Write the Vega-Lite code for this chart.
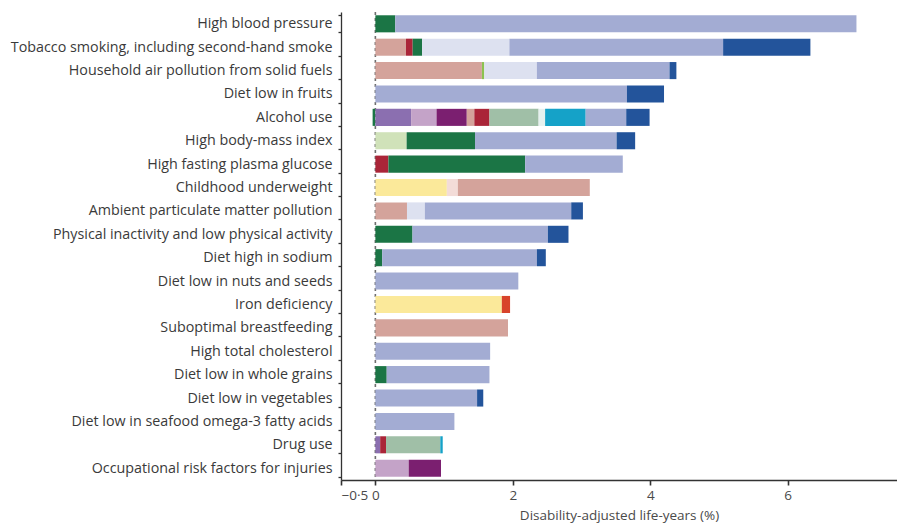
{
  "$schema": "https://vega.github.io/schema/vega-lite/v6.json",
  "autosize": {"type": "none"},
  "padding": {"left": 341, "top": 12, "right": 0, "bottom": 46},
  "width": 556,
  "height": 468,
  "background": "white",
  "config": {
    "view": {"stroke": null},
    "font": "Open Sans",
    "axis": {"grid": false}
  },
  "layer": [
    {
      "data": {"values": [{"z": 0}]},
      "mark": {"type": "rule", "color": "#6e6e6e", "strokeDash": [3, 3], "strokeWidth": 1.6},
      "encoding": {"x": {"field": "z", "type": "quantitative", "scale": {"domain": [-0.5, 7.59], "nice": false, "zero": false}}}
    },
    {
      "data": {"values": [
        {"risk": "High blood pressure", "cause": "Diabetes, urogenital, blood and endocrine diseases", "value": 0.29, "seg": 1},
        {"risk": "High blood pressure", "cause": "Cardiovascular and circulatory diseases", "value": 6.71, "seg": 2},
        {"risk": "Tobacco smoking, including second-hand smoke", "cause": "Diarrhoea, lower respiratory and other common infectious diseases", "value": 0.446, "seg": 1},
        {"risk": "Tobacco smoking, including second-hand smoke", "cause": "HIV/AIDS and tuberculosis", "value": 0.097, "seg": 2},
        {"risk": "Tobacco smoking, including second-hand smoke", "cause": "Diabetes, urogenital, blood and endocrine diseases", "value": 0.137, "seg": 3},
        {"risk": "Tobacco smoking, including second-hand smoke", "cause": "Chronic respiratory diseases", "value": 1.27, "seg": 4},
        {"risk": "Tobacco smoking, including second-hand smoke", "cause": "Cardiovascular and circulatory diseases", "value": 3.11, "seg": 5},
        {"risk": "Tobacco smoking, including second-hand smoke", "cause": "Neoplasms", "value": 1.27, "seg": 6},
        {"risk": "Household air pollution from solid fuels", "cause": "Diarrhoea, lower respiratory and other common infectious diseases", "value": 1.55, "seg": 1},
        {"risk": "Household air pollution from solid fuels", "cause": "Other non-communicable diseases", "value": 0.035, "seg": 2},
        {"risk": "Household air pollution from solid fuels", "cause": "Chronic respiratory diseases", "value": 0.765, "seg": 3},
        {"risk": "Household air pollution from solid fuels", "cause": "Cardiovascular and circulatory diseases", "value": 1.93, "seg": 4},
        {"risk": "Household air pollution from solid fuels", "cause": "Neoplasms", "value": 0.1, "seg": 5},
        {"risk": "Diet low in fruits", "cause": "Cardiovascular and circulatory diseases", "value": 3.66, "seg": 1},
        {"risk": "Diet low in fruits", "cause": "Neoplasms", "value": 0.54, "seg": 2},
        {"risk": "Alcohol use", "cause": "Diabetes, urogenital, blood and endocrine diseases", "value": -0.04, "seg": 0},
        {"risk": "Alcohol use", "cause": "Cirrhosis of the liver", "value": 0.52, "seg": 1},
        {"risk": "Alcohol use", "cause": "Transport injuries", "value": 0.37, "seg": 2},
        {"risk": "Alcohol use", "cause": "Unintentional injuries", "value": 0.44, "seg": 3},
        {"risk": "Alcohol use", "cause": "Diarrhoea, lower respiratory and other common infectious diseases", "value": 0.11, "seg": 4},
        {"risk": "Alcohol use", "cause": "HIV/AIDS and tuberculosis", "value": 0.22, "seg": 5},
        {"risk": "Alcohol use", "cause": "Mental and behavioural disorders", "value": 0.715, "seg": 6},
        {"risk": "Alcohol use", "cause": "Neurological disorders", "value": 0.095, "seg": 7},
        {"risk": "Alcohol use", "cause": "Self-harm and interpersonal violence", "value": 0.59, "seg": 8},
        {"risk": "Alcohol use", "cause": "Cardiovascular and circulatory diseases", "value": 0.59, "seg": 9},
        {"risk": "Alcohol use", "cause": "Neoplasms", "value": 0.34, "seg": 10},
        {"risk": "High body-mass index", "cause": "Musculoskeletal disorders", "value": 0.455, "seg": 1},
        {"risk": "High body-mass index", "cause": "Diabetes, urogenital, blood and endocrine diseases", "value": 0.995, "seg": 2},
        {"risk": "High body-mass index", "cause": "Cardiovascular and circulatory diseases", "value": 2.06, "seg": 3},
        {"risk": "High body-mass index", "cause": "Neoplasms", "value": 0.27, "seg": 4},
        {"risk": "High fasting plasma glucose", "cause": "HIV/AIDS and tuberculosis", "value": 0.19, "seg": 1},
        {"risk": "High fasting plasma glucose", "cause": "Diabetes, urogenital, blood and endocrine diseases", "value": 1.99, "seg": 2},
        {"risk": "High fasting plasma glucose", "cause": "Cardiovascular and circulatory diseases", "value": 1.42, "seg": 3},
        {"risk": "Childhood underweight", "cause": "Nutritional deficiencies", "value": 1.04, "seg": 1},
        {"risk": "Childhood underweight", "cause": "Neonatal disorders", "value": 0.16, "seg": 2},
        {"risk": "Childhood underweight", "cause": "Diarrhoea, lower respiratory and other common infectious diseases", "value": 1.92, "seg": 3},
        {"risk": "Ambient particulate matter pollution", "cause": "Diarrhoea, lower respiratory and other common infectious diseases", "value": 0.46, "seg": 1},
        {"risk": "Ambient particulate matter pollution", "cause": "Chronic respiratory diseases", "value": 0.26, "seg": 2},
        {"risk": "Ambient particulate matter pollution", "cause": "Cardiovascular and circulatory diseases", "value": 2.13, "seg": 3},
        {"risk": "Ambient particulate matter pollution", "cause": "Neoplasms", "value": 0.17, "seg": 4},
        {"risk": "Physical inactivity and low physical activity", "cause": "Diabetes, urogenital, blood and endocrine diseases", "value": 0.54, "seg": 1},
        {"risk": "Physical inactivity and low physical activity", "cause": "Cardiovascular and circulatory diseases", "value": 1.97, "seg": 2},
        {"risk": "Physical inactivity and low physical activity", "cause": "Neoplasms", "value": 0.3, "seg": 3},
        {"risk": "Diet high in sodium", "cause": "Diabetes, urogenital, blood and endocrine diseases", "value": 0.1, "seg": 1},
        {"risk": "Diet high in sodium", "cause": "Cardiovascular and circulatory diseases", "value": 2.25, "seg": 2},
        {"risk": "Diet high in sodium", "cause": "Neoplasms", "value": 0.13, "seg": 3},
        {"risk": "Diet low in nuts and seeds", "cause": "Cardiovascular and circulatory diseases", "value": 2.08, "seg": 1},
        {"risk": "Iron deficiency", "cause": "Nutritional deficiencies", "value": 1.84, "seg": 1},
        {"risk": "Iron deficiency", "cause": "Maternal disorders", "value": 0.12, "seg": 2},
        {"risk": "Suboptimal breastfeeding", "cause": "Diarrhoea, lower respiratory and other common infectious diseases", "value": 1.93, "seg": 1},
        {"risk": "High total cholesterol", "cause": "Cardiovascular and circulatory diseases", "value": 1.67, "seg": 1},
        {"risk": "Diet low in whole grains", "cause": "Diabetes, urogenital, blood and endocrine diseases", "value": 0.165, "seg": 1},
        {"risk": "Diet low in whole grains", "cause": "Cardiovascular and circulatory diseases", "value": 1.495, "seg": 2},
        {"risk": "Diet low in vegetables", "cause": "Cardiovascular and circulatory diseases", "value": 1.48, "seg": 1},
        {"risk": "Diet low in vegetables", "cause": "Neoplasms", "value": 0.09, "seg": 2},
        {"risk": "Diet low in seafood omega-3 fatty acids", "cause": "Cardiovascular and circulatory diseases", "value": 1.15, "seg": 1},
        {"risk": "Drug use", "cause": "Cirrhosis of the liver", "value": 0.07, "seg": 1},
        {"risk": "Drug use", "cause": "HIV/AIDS and tuberculosis", "value": 0.085, "seg": 2},
        {"risk": "Drug use", "cause": "Mental and behavioural disorders", "value": 0.79, "seg": 3},
        {"risk": "Drug use", "cause": "Self-harm and interpersonal violence", "value": 0.035, "seg": 4},
        {"risk": "Occupational risk factors for injuries", "cause": "Transport injuries", "value": 0.485, "seg": 1},
        {"risk": "Occupational risk factors for injuries", "cause": "Unintentional injuries", "value": 0.47, "seg": 2}
      ]},
      "mark": {"type": "bar"},
      "encoding": {
        "y": {
          "field": "risk", "type": "nominal", "sort": null,
          "scale": {"paddingInner": 0.27, "paddingOuter": 0.14},
          "axis": {
            "title": null, "domainColor": "#333333", "domainWidth": 1.3,
            "tickColor": "#333333", "tickSize": 3, "tickWidth": 1.3, "tickBand": "extent",
            "labelPadding": 6, "labelFontSize": 14.3, "labelColor": "#3a3a3a",
            "labelLimit": 400
          }
        },
        "x": {
          "field": "value", "type": "quantitative", "stack": "zero",
          "scale": {"domain": [-0.5, 7.59], "nice": false, "zero": false},
          "axis": {
            "values": [-0.5, 0, 2, 4, 6],
            "labelExpr": "datum.value === -0.5 ? '−0·5' : format(datum.value, 'd')",
            "labelOverlap": false,
            "title": "Disability-adjusted life-years (%)",
            "titleFontSize": 13.5, "titleFontWeight": "normal", "titleColor": "#4a4a4a", "titlePadding": 7,
            "labelFontSize": 13.5, "labelColor": "#4a4a4a", "labelPadding": 3,
            "domainColor": "#333333", "domainWidth": 1.3,
            "tickColor": "#333333", "tickSize": 5, "tickWidth": 1.6
          }
        },
        "order": {"field": "seg", "type": "quantitative"},
        "color": {
          "field": "cause", "type": "nominal", "legend": null,
          "scale": {
            "domain": [
              "Cardiovascular and circulatory diseases", "Neoplasms", "Diabetes, urogenital, blood and endocrine diseases",
              "Diarrhoea, lower respiratory and other common infectious diseases", "HIV/AIDS and tuberculosis",
              "Chronic respiratory diseases", "Other non-communicable diseases", "Musculoskeletal disorders",
              "Nutritional deficiencies", "Neonatal disorders", "Maternal disorders", "Cirrhosis of the liver",
              "Transport injuries", "Unintentional injuries", "Mental and behavioural disorders",
              "Neurological disorders", "Self-harm and interpersonal violence"
            ],
            "range": [
              "#a3acd3", "#23549b", "#1b7545",
              "#d4a39b", "#aa2538",
              "#dde1f0", "#8cc250", "#d0e2b9",
              "#fbe99a", "#f3dcd8", "#d8432b", "#8b6fb0",
              "#c4a3c8", "#7b1f70", "#a0bfa7",
              "#e6f1ef", "#15a2c8"
            ]
          }
        }
      }
    }
  ]
}
